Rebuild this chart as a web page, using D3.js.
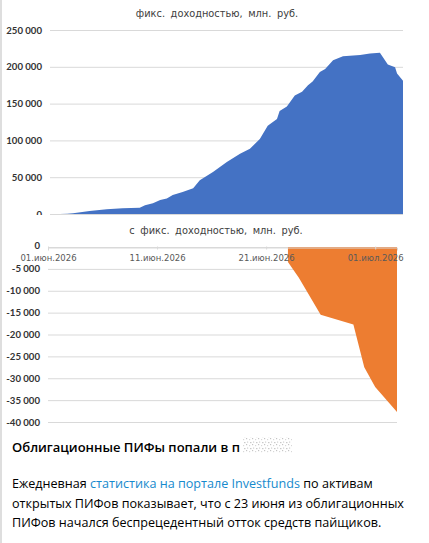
<!DOCTYPE html>
<html>
<head>
<meta charset="utf-8">
<script src="https://cdn.jsdelivr.net/npm/d3@7"></script>
<style>
  body { margin: 0; background: #fff; }
  svg { display: block; }
</style>
</head>
<body>
<svg id="chart" width="429" height="543"></svg>
<script>
// верхний график: недели от начала и накопленный приток, млн руб.
var topWeek = [0, 1.1, 2, 4.5, 7.1, 9.5, 12.1, 12.9, 14.1, 15.2, 16.2, 17.1, 18.6, 20.2, 21.2, 23.2, 25.3, 27.3, 28.8, 30.3, 31.5, 32.9, 33.3, 34.4, 35.6, 36.7, 37.6, 38.3, 39.4, 40.2, 41.4, 42.9, 45.5, 47, 48.5, 49.7, 50.8, 51.1, 52]
var topFlow = [0, 300, 1000, 4000, 6500, 7700, 8500, 12000, 14500, 19000, 21000, 25700, 30000, 35000, 46000, 57000, 70500, 81800, 88500, 102000, 120000, 129000, 140000, 146000, 161000, 166000, 175000, 180000, 193000, 197000, 209000, 214500, 216000, 218000, 219000, 203000, 199500, 191000, 181000]
var topTicks = [0, 50000, 100000, 150000, 200000, 250000]

// нижний график: ежедневный отток с 23 июня
var bottomDates = ["2026-06-23", "2026-06-24", "2026-06-26", "2026-06-29", "2026-06-30", "2026-07-01", "2026-07-03"]
var bottomFlow = [-3400, -7000, -15500, -17700, -27500, -32000, -37700]
var bottomTicks = [0, -5000, -10000, -15000, -20000, -25000, -30000, -35000, -40000]
var dateTicks = ["2026-06-01", "2026-06-11", "2026-06-21", "2026-07-01"]
var months = ["янв", "фев", "мар", "апр", "мая", "июн", "июл", "авг", "сен", "окт", "ноя", "дек"]

var svg = d3.select("#chart")
var parse = d3.utcParse("%Y-%m-%d")
var ru = d3.formatLocale({ decimal: ",", thousands: " ", grouping: [3], currency: ["", ""], minus: "-" })
var fmt = ru.format(",")

function fmtDate(d) {
    return d3.utcFormat("%d")(d) + "." + months[d.getUTCMonth()] + "." + d.getUTCFullYear()
}

// серая полоса слева
svg.append("rect").attr("x", 0).attr("y", 0).attr("width", 2).attr("height", 543).attr("fill", "#dedede")

// ---------- верхний график ----------
svg.append("clipPath").attr("id", "topClip")
    .append("rect").attr("x", 0).attr("y", 0).attr("width", 429).attr("height", 215)

var topG = svg.append("g").attr("clip-path", "url(#topClip)")

var xTop = d3.scaleLinear().domain([-1.5, 52]).range([50, 403])
var yTop = d3.scaleLinear().domain([0, 250000]).range([214, 30])

topG.append("text").attr("x", 217).attr("y", 17).attr("text-anchor", "middle")
    .attr("font-family", "DejaVu Sans").attr("font-size", 9.8).attr("word-spacing", 2.5).attr("fill", "#404040")
    .text("фикс. доходностью, млн. руб.")

topG.selectAll(".grid").data(topTicks).enter().append("line")
    .attr("x1", xTop.range()[0]).attr("x2", xTop.range()[1])
    .attr("y1", function(d) { return yTop(d) + 0.5 }).attr("y2", function(d) { return yTop(d) + 0.5 })
    .attr("stroke", "#d9d9d9").attr("stroke-width", 1)

topG.selectAll(".lab").data(topTicks).enter().append("text")
    .attr("x", 42).attr("y", function(d) { return yTop(d) + 3.5 })
    .attr("text-anchor", "end").attr("font-family", "Lato").attr("font-weight", "bold")
    .attr("font-size", 9.6).attr("fill", "#333")
    .text(function(d) { return fmt(d) })

var topArea = d3.area()
    .x(function(d, i) { return xTop(topWeek[i]) })
    .y0(yTop(0))
    .y1(function(d) { return yTop(d) })

topG.append("path").datum(topFlow).attr("d", topArea).attr("fill", "#4472c4")

// ---------- нижний график ----------
var xBot = d3.scaleUtc().domain([parse("2026-06-01"), parse("2026-07-03")]).range([48, 397])
var yBot = d3.scaleLinear().domain([-40000, 0]).range([422, 247])

svg.append("text").attr("x", 216).attr("y", 234).attr("text-anchor", "middle")
    .attr("font-family", "DejaVu Sans").attr("font-size", 9.8).attr("word-spacing", 2.5).attr("fill", "#404040")
    .text("с фикс. доходностью, млн. руб.")

svg.selectAll(".gridB").data(bottomTicks).enter().append("line")
    .attr("x1", xBot.range()[0]).attr("x2", xBot.range()[1])
    .attr("y1", function(d) { return yBot(d) + 0.5 }).attr("y2", function(d) { return yBot(d) + 0.5 })
    .attr("stroke", "#d9d9d9").attr("stroke-width", 1)

svg.selectAll(".labB").data(bottomTicks).enter().append("text")
    .attr("x", 40).attr("y", function(d) { return yBot(d) + (d === 0 ? 2 : 3.5) })
    .attr("text-anchor", "end").attr("font-family", "Lato").attr("font-weight", "bold")
    .attr("font-size", 9.6).attr("fill", "#333")
    .text(function(d) { return fmt(d) })

var botArea = d3.area()
    .x(function(d, i) { return xBot(parse(bottomDates[i])) })
    .y0(yBot(0))
    .y1(function(d) { return yBot(d) })

svg.append("path").datum(bottomFlow).attr("d", botArea).attr("fill", "#ed7d31")

// ось дат по нулю
var xAxis = d3.axisBottom(xBot)
    .tickValues(dateTicks.map(parse))
    .tickSize(3)
    .tickPadding(4)
    .tickFormat(fmtDate)

var ax = svg.append("g").attr("transform", "translate(0," + (yBot(0) + 0.5) + ")").call(xAxis)
ax.select(".domain").attr("stroke", "#d9d9d9")
ax.selectAll(".tick line").attr("stroke", "#d9d9d9").attr("transform", "translate(0,-1)")
ax.selectAll(".tick text").attr("font-family", "DejaVu Sans").attr("font-size", 8.5)
    .attr("fill", "#595959")

// ---------- текст поста ----------
svg.append("text").attr("x", 12).attr("y", 452)
    .attr("font-family", "Open Sans").attr("font-weight", 600).attr("font-size", 13).attr("fill", "#000")
    .text("Облигационные ПИФы попали в п")

var dots = svg.append("defs").append("pattern").attr("id", "spoiler")
    .attr("width", 6).attr("height", 6).attr("patternUnits", "userSpaceOnUse")
dots.append("rect").attr("width", 1.2).attr("height", 1.2).attr("fill", "#c4c4c4")
dots.append("rect").attr("x", 3).attr("y", 1).attr("width", 1.2).attr("height", 1.2).attr("fill", "#d8d8d8")
dots.append("rect").attr("x", 1).attr("y", 3.5).attr("width", 1.2).attr("height", 1.2).attr("fill", "#d0d0d0")
dots.append("rect").attr("x", 4.2).attr("y", 4).attr("width", 1.2).attr("height", 1.2).attr("fill", "#bdbdbd")
svg.append("rect").attr("x", 243).attr("y", 437).attr("width", 49).attr("height", 16).attr("fill", "url(#spoiler)")

var lines = [
    [["Ежедневная ", "#000"], ["статистика на портале Investfunds", "#168acd"], [" по активам", "#000"]],
    [["открытых ПИФов показывает, что с 23 июня из облигационных", "#000"]],
    [["ПИФов начался беспрецедентный отток средств пайщиков.", "#000"]]
]
lines.forEach(function(parts, i) {
    var t = svg.append("text").attr("x", 12).attr("y", 488 + i * 19.5)
        .attr("font-family", "Open Sans").attr("font-size", 12.6)
    parts.forEach(function(p) {
        t.append("tspan").attr("fill", p[1]).text(p[0])
    })
})
</script>
</body>
</html>
